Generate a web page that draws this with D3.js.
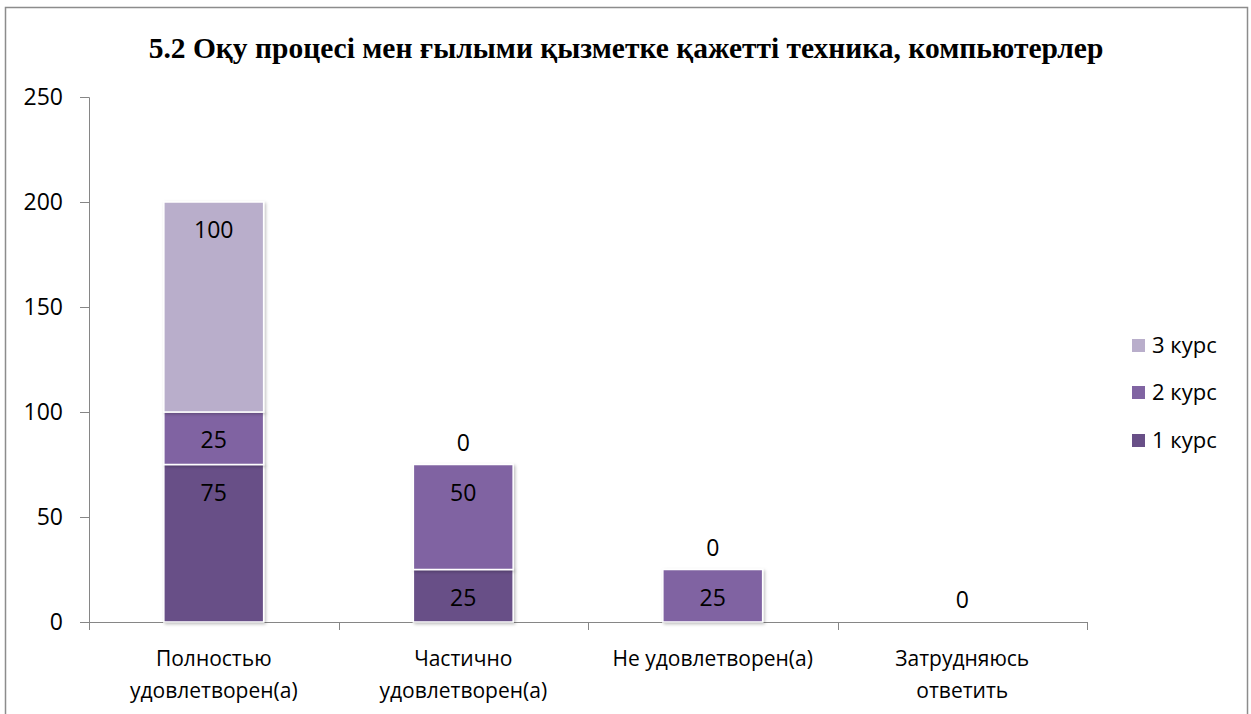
<!DOCTYPE html>
<html>
<head>
  <meta charset="UTF-8" />
  <title>5.2 stacked bars</title>
  <script src="https://d3js.org/d3.v7.min.js"></script>
  <style>
    body { margin: 0; background: #ffffff; }
    .tick text, .legendText, .valText, .catText { font-family: "Open Sans", "Noto Sans", sans-serif; font-size: 23px; fill: #000; }
    .catText { font-size: 21px; }
    .legendText { font-size: 22px; }
    .title { font-family: "Liberation Serif", "Times New Roman", serif; font-weight: bold; font-size: 29.5px; }
  </style>
</head>
<body>
<div id="holder"></div>
<script>
  var categories = [["Полностью", "удовлетворен(а)"], ["Частично", "удовлетворен(а)"], ["Не удовлетворен(а)"], ["Затрудняюсь", "ответить"]];
  var seriesNames = ["1 курс", "2 курс", "3 курс"];
  var kurs1 = [75, 25, 0, 0];
  var kurs2 = [25, 50, 25, 0];
  var kurs3 = [100, 0, 0, 0];
  var yTicks = [0, 50, 100, 150, 200, 250];
  var colors = ["#684f87", "#8064a2", "#b9aecb"];

  var W = 1251, H = 714;
  var m = {top: 97, left: 89, right: 164, bottom: 92};
  var w = W - m.left - m.right, h = H - m.top - m.bottom;

  var svg = d3.select("#holder").append("svg")
    .attr("width", W).attr("height", H);

  // frame
  svg.append("rect").attr("x", 5.5).attr("y", 7.5).attr("width", 1242).attr("height", 720)
    .attr("fill", "none").attr("stroke", "#8c8c8c").attr("stroke-width", 1.5);

  svg.append("text").attr("class", "title")
    .attr("x", 626).attr("y", 58).attr("text-anchor", "middle")
    .text("5.2 Оқу процесі мен ғылыми қызметке қажетті техника, компьютерлер");

  var idx = d3.range(categories.length);
  var x = d3.scaleBand().domain(idx).range([0, w]).paddingInner(0.6).paddingOuter(0.3);
  var xOuter = d3.scaleBand().domain(idx).range([0, w]);
  var y = d3.scaleLinear().domain([0, 250]).range([h, 0]);

  var g = svg.append("g").attr("transform", "translate(" + m.left + "," + m.top + ")");

  var yAxis = d3.axisLeft(y).tickValues(yTicks).tickSize(9).tickPadding(17);
  var gy = g.append("g").call(yAxis);
  gy.select(".domain").attr("stroke", "#868686");
  gy.selectAll(".tick line").attr("stroke", "#868686");

  // x axis line with category boundary ticks
  g.append("line").attr("x1", 0).attr("x2", w).attr("y1", h + 0.5).attr("y2", h + 0.5)
    .attr("stroke", "#868686");
  g.selectAll(".xtick").data(d3.range(categories.length + 1)).enter().append("line")
    .attr("x1", function(d) { return Math.round(d * xOuter.step()) + 0.5; })
    .attr("x2", function(d) { return Math.round(d * xOuter.step()) + 0.5; })
    .attr("y1", h).attr("y2", h + 8).attr("stroke", "#868686");

  var table = idx.map(function(i) {
    return {i: i, "1 курс": kurs1[i], "2 курс": kurs2[i], "3 курс": kurs3[i]};
  });
  var stack = d3.stack().keys(seriesNames)(table);

  var defs = svg.append("defs");
  var f = defs.append("filter").attr("id", "shadow").attr("x", "-10%").attr("y", "-10%").attr("width", "130%").attr("height", "130%");
  f.append("feDropShadow").attr("dx", 1.5).attr("dy", 1.5).attr("stdDeviation", 1.5).attr("flood-color", "#000").attr("flood-opacity", 0.25);

  var layers = g.selectAll(".layer").data(stack).enter().append("g")
    .attr("fill", function(d, i) { return colors[i]; });
  layers.selectAll("rect").data(function(d) { return d; }).enter()
    .filter(function(d) { return d[1] - d[0] > 0; })
    .append("rect")
    .attr("x", function(d) { return x(d.data.i); })
    .attr("y", function(d) { return y(d[1]); })
    .attr("width", x.bandwidth())
    .attr("height", function(d) { return y(d[0]) - y(d[1]); })
    .attr("stroke", "#ffffff").attr("stroke-width", 1.5)
    .attr("filter", "url(#shadow)");

  // value labels
  stack.forEach(function(s, si) {
    s.forEach(function(d) {
      var v = d[1] - d[0];
      if (v === 0 && si !== stack.length - 1) return;
      var cy = v > 0 ? y(d[1]) + 28 : y(d[1]) - 22;
      g.append("text").attr("class", "valText")
        .attr("x", x(d.data.i) + x.bandwidth() / 2)
        .attr("y", cy).attr("dy", "0.35em").attr("text-anchor", "middle")
        .text(v);
    });
  });

  // category labels
  categories.forEach(function(lines, i) {
    var t = g.append("text").attr("class", "catText").attr("text-anchor", "middle")
      .attr("x", xOuter(i) + xOuter.bandwidth() / 2).attr("y", h + 44);
    lines.forEach(function(l, k) {
      t.append("tspan").attr("x", xOuter(i) + xOuter.bandwidth() / 2).attr("dy", k === 0 ? 0 : 32).text(l);
    });
  });

  // legend
  var leg = svg.append("g").attr("transform", "translate(1132,0)");
  var legOrder = seriesNames.slice().reverse();
  var legY = [345, 392, 440];
  legOrder.forEach(function(name, k) {
    var ci = seriesNames.indexOf(name);
    leg.append("rect").attr("x", 0).attr("y", legY[k] - 6).attr("width", 13).attr("height", 13).attr("fill", colors[ci]);
    leg.append("text").attr("class", "legendText").attr("x", 20).attr("y", legY[k]).attr("dy", "0.35em").text(name);
  });
</script>
</body>
</html>
